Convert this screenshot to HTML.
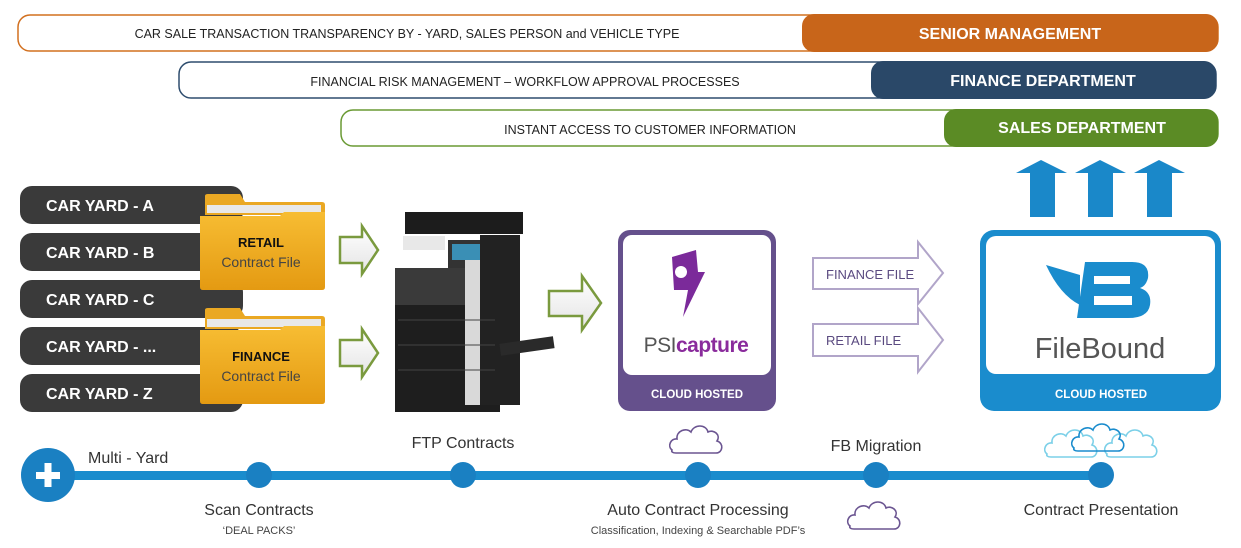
<!DOCTYPE html>
<html><head><meta charset="utf-8"><style>
html,body{margin:0;padding:0;background:#fff;}
svg{display:block;}
text{font-family:"Liberation Sans",sans-serif;}
</style></head><body>
<svg width="1241" height="548" viewBox="0 0 1241 548" xmlns="http://www.w3.org/2000/svg">
<defs>
<linearGradient id="fold" x1="0" y1="0" x2="0" y2="1"><stop offset="0" stop-color="#f7bd33"/><stop offset="1" stop-color="#e49a12"/></linearGradient>
<linearGradient id="garr" x1="0" y1="0" x2="0" y2="1"><stop offset="0" stop-color="#ffffff"/><stop offset="1" stop-color="#e4e4e4"/></linearGradient>
<g id="cloud"><path d="M2,26 C-3,22 1,14 7,15 C6,7 16,3 21,8 C24,0 36,0 38,8 C44,5 51,11 47,17 C54,19 53,29 46,29 L6,29 C3,29 1,28 2,26 Z" fill="none" stroke-width="1.6"/></g>
</defs>

<!-- top bars -->
<rect x="18" y="15" width="1200" height="36" rx="12" fill="#fff" stroke="#d2701f" stroke-width="1.5"/>
<rect x="802" y="14" width="416" height="38" rx="12" fill="#c8651a"/>
<text x="407" y="38" font-size="12.5" text-anchor="middle" fill="#222">CAR SALE TRANSACTION TRANSPARENCY BY - YARD, SALES PERSON and VEHICLE TYPE</text>
<text x="1010" y="39" font-size="16" font-weight="bold" text-anchor="middle" fill="#fff">SENIOR MANAGEMENT</text>

<rect x="179" y="62" width="1037" height="36" rx="12" fill="#fff" stroke="#2e4d6e" stroke-width="1.5"/>
<rect x="871" y="61" width="345" height="38" rx="12" fill="#2a4868"/>
<text x="525" y="86" font-size="12.5" text-anchor="middle" fill="#222">FINANCIAL RISK MANAGEMENT – WORKFLOW APPROVAL PROCESSES</text>
<text x="1043" y="86" font-size="16" font-weight="bold" text-anchor="middle" fill="#fff">FINANCE DEPARTMENT</text>

<rect x="341" y="110" width="877" height="36" rx="12" fill="#fff" stroke="#6a9a34" stroke-width="1.5"/>
<rect x="944" y="109" width="274" height="38" rx="12" fill="#5b8b25"/>
<text x="650" y="134" font-size="12.5" text-anchor="middle" fill="#222">INSTANT ACCESS TO CUSTOMER INFORMATION</text>
<text x="1082" y="133" font-size="16" font-weight="bold" text-anchor="middle" fill="#fff">SALES DEPARTMENT</text>

<!-- blue up arrows -->
<g fill="#1a88c9">
<polygon points="1041,160 1067,173 1055,173 1055,217 1030,217 1030,173 1016,173"/>
<polygon points="1100,160 1126,173 1113,173 1113,217 1088,217 1088,173 1075,173"/>
<polygon points="1159,160 1185,173 1172,173 1172,217 1147,217 1147,173 1134,173"/>
</g>

<!-- car yards -->
<g fill="#3a3a3a">
<rect x="20" y="186" width="223" height="38" rx="12"/>
<rect x="20" y="233" width="223" height="38" rx="12"/>
<rect x="20" y="280" width="223" height="38" rx="12"/>
<rect x="20" y="327" width="223" height="38" rx="12"/>
<rect x="20" y="374" width="223" height="38" rx="12"/>
</g>
<g fill="#fff" font-size="16" font-weight="bold">
<text x="46" y="211">CAR YARD - A</text>
<text x="46" y="258">CAR YARD - B</text>
<text x="46" y="305">CAR YARD - C</text>
<text x="46" y="352">CAR YARD - ...</text>
<text x="46" y="399">CAR YARD - Z</text>
</g>

<!-- folders -->
<g>
<path d="M205,200 L205,196 Q205,194 208,194 L240,194 L245,202 L322,202 Q325,202 325,205 L325,215 L205,215 Z" fill="#eaa823"/>
<rect x="207" y="205" width="114" height="8" fill="#e8e8e8"/>
<path d="M200,216 L280,216 L284,212 L325,212 L325,287 Q325,290 322,290 L203,290 Q200,290 200,287 Z" fill="url(#fold)"/>
<text x="261" y="247" font-size="13" font-weight="bold" text-anchor="middle" fill="#111">RETAIL</text>
<text x="261" y="267" font-size="14" text-anchor="middle" fill="#444">Contract File</text>
</g>
<g>
<path d="M205,314 L205,310 Q205,308 208,308 L240,308 L245,316 L322,316 Q325,316 325,319 L325,329 L205,329 Z" fill="#eaa823"/>
<rect x="207" y="319" width="114" height="8" fill="#e8e8e8"/>
<path d="M200,330 L280,330 L284,326 L325,326 L325,401 Q325,404 322,404 L203,404 Q200,404 200,401 Z" fill="url(#fold)"/>
<text x="261" y="361" font-size="13" font-weight="bold" text-anchor="middle" fill="#111">FINANCE</text>
<text x="261" y="381" font-size="14" text-anchor="middle" fill="#444">Contract File</text>
</g>

<!-- green arrows -->
<g fill="url(#garr)" stroke="#7a9a3e" stroke-width="2.5">
<polygon points="340,237 362,237 362,226 378,250 362,274 362,263 340,263"/>
<polygon points="340,340 362,340 362,329 378,353 362,377 362,366 340,366"/>
<polygon points="549,291 582,291 582,276 601,303 582,330 582,316 549,316"/>
</g>

<!-- printer -->
<g>
<rect x="405" y="212" width="118" height="22" fill="#1c1c1c"/>
<rect x="403" y="236" width="42" height="14" fill="#e8e8e8"/>
<rect x="448" y="240" width="44" height="28" fill="#333"/>
<rect x="452" y="244" width="34" height="16" fill="#3a8fb5"/>
<rect x="395" y="268" width="70" height="40" fill="#3a3a3a"/>
<rect x="395" y="305" width="105" height="107" fill="#1e1e1e"/>
<rect x="465" y="260" width="35" height="145" fill="#d9d9d9"/>
<rect x="480" y="235" width="40" height="170" fill="#222"/>
<rect x="500" y="340" width="54" height="12" fill="#2a2a2a" transform="rotate(-8 527 346)"/>
<line x1="398" y1="320" x2="495" y2="320" stroke="#444"/>
<line x1="398" y1="345" x2="495" y2="345" stroke="#444"/>
<line x1="398" y1="370" x2="495" y2="370" stroke="#444"/>
</g>

<!-- PSI box -->
<rect x="618" y="230" width="158" height="181" rx="12" fill="#65508c"/>
<rect x="623" y="235" width="148" height="140" rx="9" fill="#fff"/>
<path d="M672,257 L696,250 L698,272 L705,272 L683,317 L688,290 L674,290 Z" fill="#7b2a9a"/>
<circle cx="681" cy="272" r="6" fill="#fff"/>
<text x="696" y="352" font-size="21" text-anchor="middle" letter-spacing="-0.5"><tspan fill="#555">PSI</tspan><tspan font-weight="bold" fill="#8a2b9c">capture</tspan></text>
<text x="697" y="398" font-size="11.5" font-weight="bold" text-anchor="middle" fill="#fff">CLOUD HOSTED</text>

<!-- lavender arrows -->
<g fill="#fff" stroke="#b1a5c9" stroke-width="2">
<polygon points="813,258 918,258 918,242 943,273 918,304 918,289 813,289"/>
<polygon points="813,324 918,324 918,308 943,340 918,372 918,356 813,356"/>
</g>
<text x="826" y="279" font-size="13" fill="#5a4a80">FINANCE FILE</text>
<text x="826" y="345" font-size="13" fill="#5a4a80">RETAIL FILE</text>

<!-- FileBound box -->
<rect x="980" y="230" width="241" height="181" rx="14" fill="#1a8ccd"/>
<rect x="986" y="236" width="229" height="138" rx="10" fill="#fff"/>
<path d="M1046,265 Q1060,295 1080,305 L1080,275 Z" fill="#1a8ccd"/>
<path d="M1085,262 L1132,262 Q1150,262 1148,278 Q1146,286 1140,288 Q1152,292 1150,305 Q1148,318 1128,318 L1077,318 Z" fill="#1a8ccd"/>
<rect x="1094" y="276" width="36" height="8" fill="#fff"/>
<rect x="1094" y="296" width="38" height="9" fill="#fff"/>
<text x="1100" y="358" font-size="29" text-anchor="middle" fill="#555">FileBound</text>
<text x="1101" y="398" font-size="11.5" font-weight="bold" text-anchor="middle" fill="#fff">CLOUD HOSTED</text>

<!-- clouds -->
<use href="#cloud" x="670" y="424" stroke="#6b5591"/>
<use href="#cloud" x="848" y="500" stroke="#6b5591"/>
<use href="#cloud" x="1045" y="428" stroke="#7cd0e8"/>
<use href="#cloud" x="1105" y="428" stroke="#7cd0e8"/>
<use href="#cloud" x="1072" y="422" stroke="#1a8ccd"/>

<!-- timeline -->
<rect x="48" y="471" width="1055" height="9" fill="#1a8ccd"/>
<circle cx="48" cy="475" r="27" fill="#1a80c2"/>
<rect x="36" y="472" width="24" height="7" fill="#fff"/>
<rect x="44.5" y="463" width="7" height="24" fill="#fff"/>
<g fill="#1a80c2">
<circle cx="259" cy="475" r="13"/>
<circle cx="463" cy="475" r="13"/>
<circle cx="698" cy="475" r="13"/>
<circle cx="876" cy="475" r="13"/>
<circle cx="1101" cy="475" r="13"/>
</g>
<g fill="#333" font-size="16">
<text x="88" y="463">Multi - Yard</text>
<text x="259" y="515" text-anchor="middle">Scan Contracts</text>
<text x="463" y="448" text-anchor="middle">FTP Contracts</text>
<text x="698" y="515" text-anchor="middle">Auto Contract Processing</text>
<text x="876" y="451" text-anchor="middle">FB Migration</text>
<text x="1101" y="515" text-anchor="middle">Contract Presentation</text>
</g>
<text x="259" y="534" font-size="11" text-anchor="middle" fill="#444">‘DEAL PACKS’</text>
<text x="698" y="534" font-size="11" text-anchor="middle" fill="#444">Classification, Indexing &amp; Searchable PDF’s</text>
</svg>
</body></html>
